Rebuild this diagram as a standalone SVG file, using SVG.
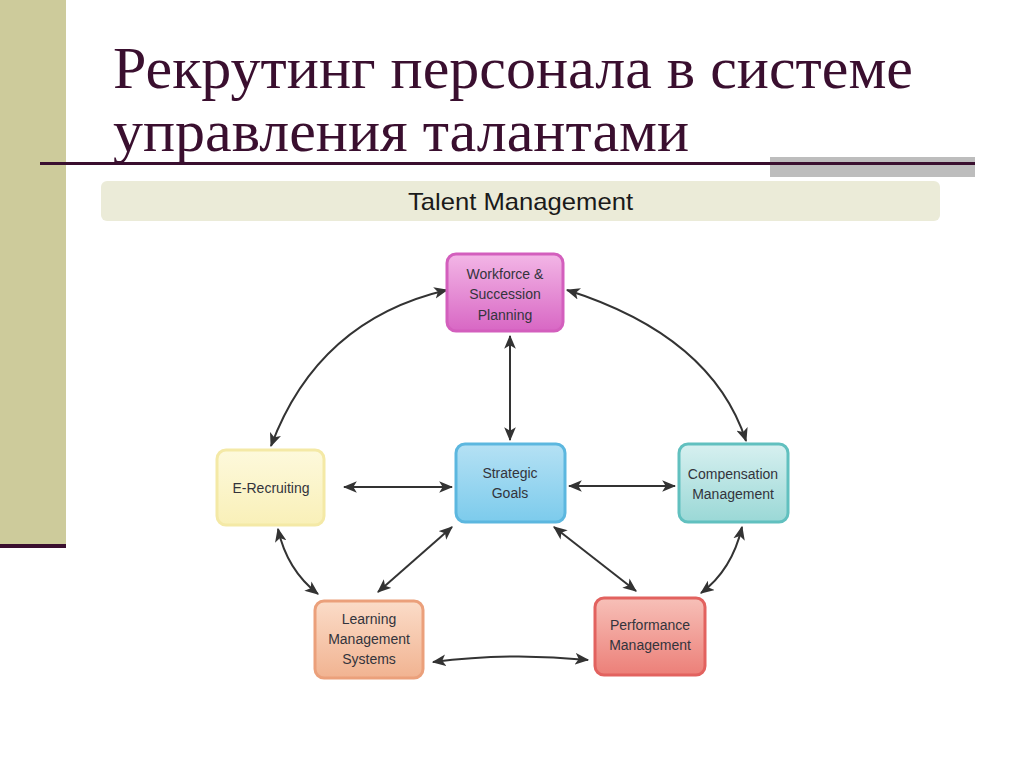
<svg xmlns="http://www.w3.org/2000/svg" width="1024" height="767" viewBox="0 0 1024 767">
<defs>
<style>
.title{font-family:"Liberation Serif","Times New Roman",serif;font-size:60px;fill:#3a0f2f}
.lbl{font-family:"Liberation Sans Narrow","Liberation Sans",Arial,sans-serif;font-size:14px;fill:#33343c;text-anchor:middle}
.conn path,.conn line{fill:none;stroke:#333;stroke-width:2;marker-start:url(#ah);marker-end:url(#ah)}
.box{stroke-width:3}
</style>
<marker id="ah" viewBox="0 0 12 10" refX="11" refY="5" markerWidth="7" markerHeight="6" markerUnits="strokeWidth" orient="auto-start-reverse">
<path d="M0,0 L12,5 L0,10 L3,5 Z" fill="#333"/>
</marker>
<linearGradient id="gPink" x1="0" y1="0" x2="0" y2="1"><stop offset="0" stop-color="#f3b6e6"/><stop offset="1" stop-color="#d867c4"/></linearGradient>
<linearGradient id="gBlue" x1="0" y1="0" x2="0" y2="1"><stop offset="0" stop-color="#b5e1f4"/><stop offset="1" stop-color="#7ccbec"/></linearGradient>
<linearGradient id="gYel" x1="0" y1="0" x2="0" y2="1"><stop offset="0" stop-color="#fdf9dc"/><stop offset="1" stop-color="#f9f0b8"/></linearGradient>
<linearGradient id="gTeal" x1="0" y1="0" x2="0" y2="1"><stop offset="0" stop-color="#d7f0f0"/><stop offset="1" stop-color="#9ad8d6"/></linearGradient>
<linearGradient id="gOr" x1="0" y1="0" x2="0" y2="1"><stop offset="0" stop-color="#fbdcc8"/><stop offset="1" stop-color="#f1b391"/></linearGradient>
<linearGradient id="gRed" x1="0" y1="0" x2="0" y2="1"><stop offset="0" stop-color="#f7c0b8"/><stop offset="1" stop-color="#ec7f78"/></linearGradient>
</defs>
<rect width="1024" height="767" fill="#ffffff"/>
<g id="decor">
<rect x="0" y="0" width="66" height="546" fill="#cdcb9b"/>
<rect x="0" y="544" width="66" height="4" fill="#3a0f2f"/>
<rect x="770" y="157" width="205" height="20" fill="#bdbdbd"/>
<rect x="40" y="162" width="935" height="3" fill="#3a0f2f"/>
</g>
<g id="title">
<text class="title" x="113" y="88">Рекрутинг персонала в системе</text>
<text class="title" x="113" y="151">управления талантами</text>
</g>
<g id="banner">
<rect x="101" y="181" width="839" height="40" rx="6" fill="#ebebd8"/>
<text x="408" y="210" textLength="225" lengthAdjust="spacingAndGlyphs" font-family="Liberation Sans Narrow, Liberation Sans, Arial, sans-serif" font-size="24" fill="#1a1a1a">Talent Management</text>
</g>
<g class="conn" id="connectors">
<path d="M447,290 Q318,320 271,446"/>
<path d="M567,290 Q712,336 746,441"/>
<line x1="510" y1="336" x2="510" y2="440"/>
<line x1="344" y1="487" x2="452" y2="487"/>
<line x1="569" y1="486" x2="675" y2="486"/>
<path d="M278,529 Q287,570 318,594"/>
<line x1="452" y1="527" x2="378" y2="592"/>
<line x1="554" y1="527" x2="636" y2="591"/>
<path d="M742,527 Q732,570 701,593"/>
<path d="M433,662 Q510,652 588,660"/>
</g>
<g id="node-workforce">
<rect class="box" x="447" y="254" width="116" height="77" rx="9" fill="url(#gPink)" stroke="#d35fbd"/>
<text class="lbl" x="505" y="279">Workforce &amp;</text>
<text class="lbl" x="505" y="299">Succession</text>
<text class="lbl" x="505" y="320">Planning</text>
</g>
<g id="node-strategic">
<rect class="box" x="456" y="444" width="109" height="78" rx="9" fill="url(#gBlue)" stroke="#5cb7df"/>
<text class="lbl" x="510" y="478">Strategic</text>
<text class="lbl" x="510" y="498">Goals</text>
</g>
<g id="node-erecruiting">
<rect class="box" x="217" y="450" width="107" height="75" rx="9" fill="url(#gYel)" stroke="#f4e9a6"/>
<text class="lbl" x="271" y="493">E-Recruiting</text>
</g>
<g id="node-compensation">
<rect class="box" x="679" y="444" width="109" height="78" rx="9" fill="url(#gTeal)" stroke="#61c0bf"/>
<text class="lbl" x="733" y="479">Compensation</text>
<text class="lbl" x="733" y="499">Management</text>
</g>
<g id="node-learning">
<rect class="box" x="315" y="601" width="108" height="77" rx="9" fill="url(#gOr)" stroke="#eba07b"/>
<text class="lbl" x="369" y="624">Learning</text>
<text class="lbl" x="369" y="644">Management</text>
<text class="lbl" x="369" y="664">Systems</text>
</g>
<g id="node-performance">
<rect class="box" x="595" y="598" width="110" height="77" rx="9" fill="url(#gRed)" stroke="#e2625f"/>
<text class="lbl" x="650" y="630">Performance</text>
<text class="lbl" x="650" y="650">Management</text>
</g>
</svg>
